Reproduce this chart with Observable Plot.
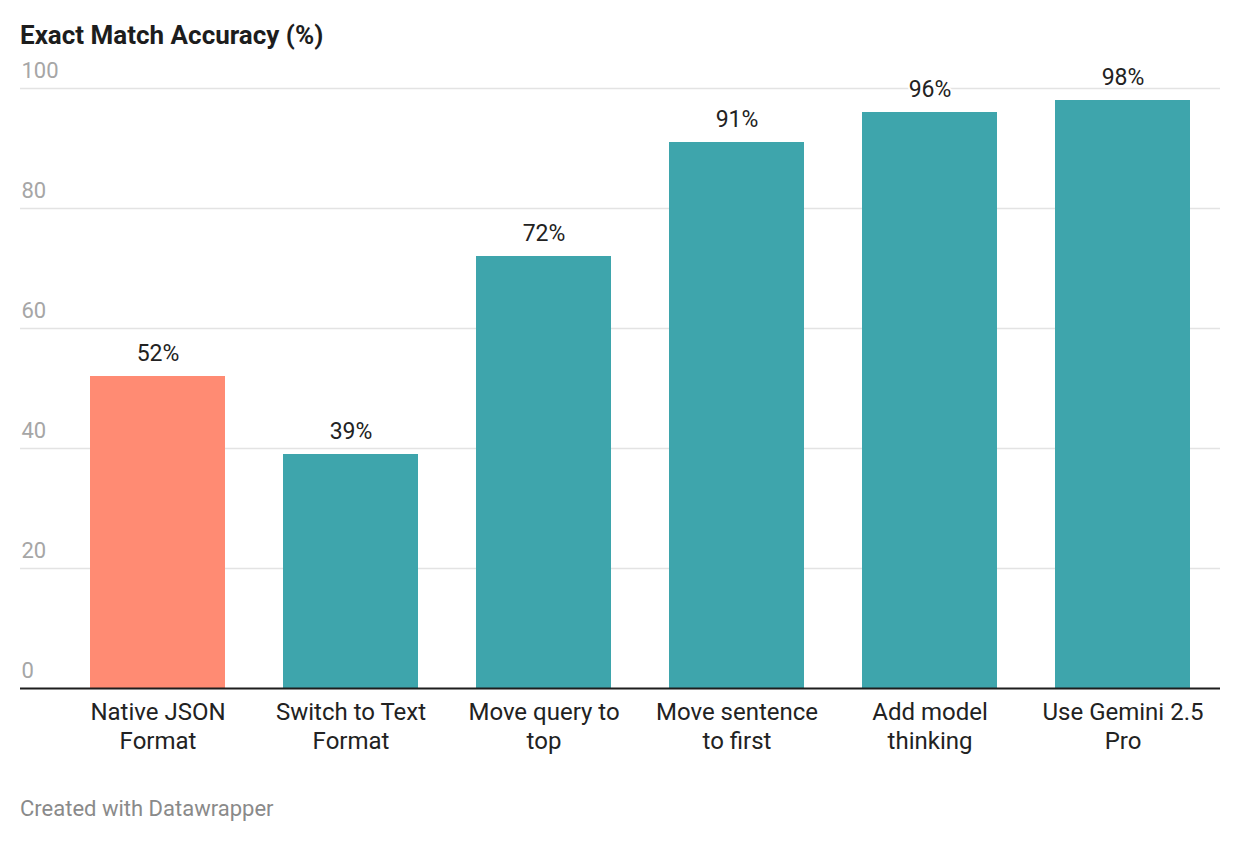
<!DOCTYPE html>
<html>
<head>
<meta charset="utf-8">
<script src="https://cdn.jsdelivr.net/npm/d3@7"></script>
<script src="https://cdn.jsdelivr.net/npm/@observablehq/plot@0.6"></script>
<style>
  body { margin: 0; background: #fff; font-family: Roboto, "Noto Sans", sans-serif; }
  #wrap { position: relative; width: 1240px; height: 842px; }
  #chart { position: absolute; left: 0; top: 40px; }
  #title { position: absolute; left: 20px; top: 22px; font-size: 26px; line-height: 26px; font-weight: 700; color: #1d1d1d; z-index: 2; }
  #caption { position: absolute; left: 20px; top: 798px; font-size: 22px; line-height: 22px; color: #8a8a8a; }
</style>
</head>
<body>
<div id="wrap">
  <div id="chart"></div>
  <div id="title">Exact Match Accuracy (%)</div>
  <div id="caption">Created with Datawrapper</div>
</div>
<script>
const categories = [
  "Native JSON\nFormat",
  "Switch to Text\nFormat",
  "Move query to\ntop",
  "Move sentence\nto first",
  "Add model\nthinking",
  "Use Gemini 2.5\nPro"
];
const values = [52, 39, 72, 91, 96, 98];
const barColors = ["#ff8b73", "#3ea5ac", "#3ea5ac", "#3ea5ac", "#3ea5ac", "#3ea5ac"];
const yTicks = [0, 20, 40, 60, 80, 100];

const data = categories.map((c, i) => ({category: c, value: values[i], color: barColors[i]}));

const chart = Plot.plot({
  width: 1240,
  height: 730,
  marginLeft: 20,
  marginRight: 20,
  marginTop: 48,
  marginBottom: 82,
  style: {fontFamily: "Roboto, sans-serif", background: "transparent"},
  x: {domain: categories, range: [61, 1219], paddingInner: 0.3, paddingOuter: 0.15, label: null},
  y: {domain: [0, 100], label: null, axis: null},
  marks: [
    Plot.ruleY(yTicks.filter(d => d > 0), {stroke: "#e3e3e3", strokeWidth: 1.5}),
    Plot.text(yTicks, {y: d => d, text: d => String(d), frameAnchor: "left", textAnchor: "start", lineAnchor: "bottom", dx: 1, dy: -11, fontSize: 22, fill: "#a6a6a6"}),
    Plot.barY(data, {x: "category", y: "value", fill: "color"}),
    Plot.ruleY([0], {stroke: "#1d1d1d", strokeWidth: 2}),
    Plot.text(data, {x: "category", y: "value", text: d => d.value + "%", lineAnchor: "bottom", dy: -16, fontSize: 23, fill: "#222", stroke: "#fff", strokeWidth: 4, paintOrder: "stroke"}),
    Plot.axisX({tickSize: 0, tickPadding: 12, fontSize: 24, lineHeight: 1.17, fill: "#222", label: null})
  ]
});
document.getElementById("chart").appendChild(chart);
</script>
</body>
</html>
